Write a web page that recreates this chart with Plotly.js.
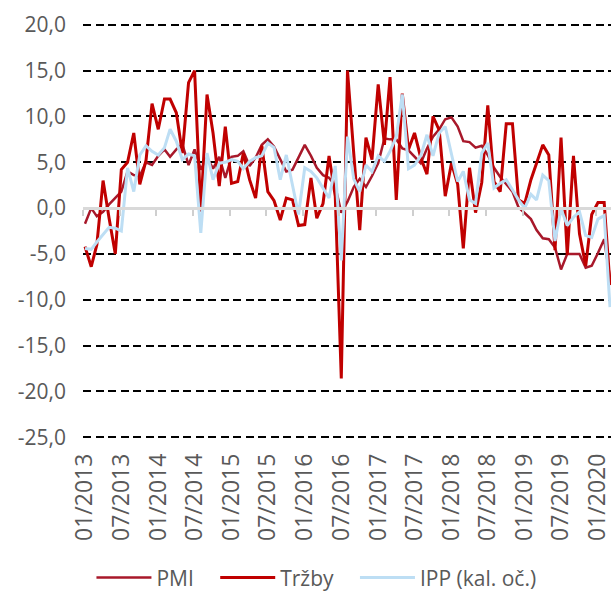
<!DOCTYPE html>
<html>
<head>
<meta charset="utf-8">
<script src="https://cdn.plot.ly/plotly-3.0.1.min.js"></script>
<style>html,body{margin:0;padding:0;background:#fff;}#chart{width:611px;height:597px;}</style>
</head>
<body>
<div id="chart"></div>
<script>
const months = [
'2013-01-01','2013-02-01','2013-03-01','2013-04-01','2013-05-01','2013-06-01','2013-07-01','2013-08-01','2013-09-01','2013-10-01','2013-11-01','2013-12-01',
'2014-01-01','2014-02-01','2014-03-01','2014-04-01','2014-05-01','2014-06-01','2014-07-01','2014-08-01','2014-09-01','2014-10-01','2014-11-01','2014-12-01',
'2015-01-01','2015-02-01','2015-03-01','2015-04-01','2015-05-01','2015-06-01','2015-07-01','2015-08-01','2015-09-01','2015-10-01','2015-11-01','2015-12-01',
'2016-01-01','2016-02-01','2016-03-01','2016-04-01','2016-05-01','2016-06-01','2016-07-01','2016-08-01','2016-09-01','2016-10-01','2016-11-01','2016-12-01',
'2017-01-01','2017-02-01','2017-03-01','2017-04-01','2017-05-01','2017-06-01','2017-07-01','2017-08-01','2017-09-01','2017-10-01','2017-11-01','2017-12-01',
'2018-01-01','2018-02-01','2018-03-01','2018-04-01','2018-05-01','2018-06-01','2018-07-01','2018-08-01','2018-09-01','2018-10-01','2018-11-01','2018-12-01',
'2019-01-01','2019-02-01','2019-03-01','2019-04-01','2019-05-01','2019-06-01','2019-07-01','2019-08-01','2019-09-01','2019-10-01','2019-11-01','2019-12-01',
'2020-01-01','2020-02-01','2020-03-01'
];

const pmi = [
-1.7,0.0,-0.9,-0.4,0.4,1.1,1.8,4.0,3.6,3.5,5.0,4.7,
5.7,6.4,5.6,6.4,7.0,4.7,6.4,4.2,5.5,4.3,5.6,3.3,
5.6,5.7,6.2,4.6,5.5,6.9,7.5,6.7,5.3,4.0,4.2,5.5,
6.9,5.7,4.4,3.6,3.3,2.4,-0.5,0.7,2.3,3.2,2.3,3.5,
4.9,7.6,7.5,7.5,6.5,6.3,5.6,4.9,6.5,7.8,8.6,9.7,
9.9,8.9,7.3,7.2,6.6,6.8,5.8,4.4,3.4,2.6,1.8,0.1,
-0.5,-1.2,-2.4,-3.3,-3.4,-4.3,-6.7,-5.0,-5.0,-5.0,-6.5,-6.3,
-4.9,-3.4,-7.6
];

const trzby = [
-4.2,-6.4,-4.0,3.0,-1.1,-5.0,4.2,5.0,8.2,2.6,5.2,11.4,
8.6,11.9,11.9,10.4,6.0,13.7,15.0,-0.4,12.4,8.2,2.4,8.9,
2.7,2.9,6.0,3.1,1.1,6.8,1.8,0.8,-1.3,1.1,0.9,-1.9,
-1.8,3.3,-1.1,0.5,5.7,1.3,-18.6,15.0,6.0,-2.4,7.7,5.3,
13.5,6.9,14.3,0.9,12.5,6.4,8.2,5.5,3.7,10.0,8.5,1.3,
4.9,2.6,-4.4,4.4,-0.5,2.8,11.2,2.9,1.8,9.2,9.2,0.9,
0.5,3.1,4.9,6.9,5.8,-4.6,7.7,-5.1,5.7,-2.8,-6.3,-0.7,
0.6,0.6,-8.4
];

const ipp = [
-4.4,-4.5,-3.7,-2.9,-2.1,-2.2,-2.5,4.4,1.8,5.8,6.8,6.2,
5.8,6.6,8.6,7.3,5.3,5.9,5.7,-2.7,6.0,3.1,4.9,5.0,
5.3,5.1,4.3,5.1,5.5,5.7,7.1,6.6,3.1,5.8,2.6,-0.7,
4.4,4.0,3.3,2.2,1.1,4.6,-5.7,7.8,3.2,1.8,4.7,4.0,
5.7,5.1,6.2,7.8,12.4,4.3,4.7,5.7,8.0,5.7,8.2,8.9,
5.8,2.9,4.0,0.9,0.5,6.0,7.1,2.2,2.7,3.1,2.0,0.9,
0.0,1.5,0.9,3.6,3.0,-3.6,-0.1,-1.9,-1.0,-0.4,-3.0,-3.2,
-1.2,-0.8,-10.8
];

const seriesNames = ['PMI', 'Tržby', 'IPP (kal. oč.)'];
const yTickVals = [-25, -20, -15, -10, -5, 0, 5, 10, 15, 20];
const yTickText = yTickVals.map(v => v.toFixed(1).replace('.', ','));

const FONT = '"Open Sans", "Noto Sans", sans-serif';
const GRAY = '#595959';
const NBSP = '\u00a0';
const xRange = ['2012-12-22', '2020-03-06'];
const yRange = [-25.2, 20.2];

const traces = [
  {x: months, y: pmi, name: seriesNames[0] + NBSP.repeat(3), type: 'scatter', mode: 'lines',
   line: {color: '#A8182A', width: 2.5}},
  {x: months, y: trzby, name: seriesNames[1] + NBSP.repeat(3), type: 'scatter', mode: 'lines',
   line: {color: '#C00000', width: 3}},
  {x: months, y: ipp, name: seriesNames[2], type: 'scatter', mode: 'lines',
   line: {color: '#BDDEF4', width: 3}},
  {x: [months[0]], y: [0], xaxis: 'x2', yaxis: 'y', type: 'scatter', mode: 'markers',
   showlegend: false, hoverinfo: 'skip', marker: {size: 1, color: 'rgba(0,0,0,0)'}}
];

const layout = {
  width: 611, height: 597,
  margin: {l: 83, r: 0, t: 23, b: 158, autoexpand: false},
  paper_bgcolor: '#fff', plot_bgcolor: '#fff',
  showlegend: true,
  font: {family: FONT, color: GRAY, size: 22},
  xaxis: {
    type: 'date', range: xRange,
    tick0: '2013-01-01', dtick: 'M6', tickformat: '%m/%Y',
    tickangle: -90, showgrid: false, zeroline: false, showline: false,
    ticks: '', ticklabelstandoff: 9, ticklabeloverflow: 'allow',
    tickfont: {family: FONT, size: 23, color: GRAY}
  },
  xaxis2: {
    type: 'date', range: xRange, overlaying: 'x', anchor: 'free',
    position: (0 - yRange[0]) / (yRange[1] - yRange[0]), side: 'bottom',
    tick0: '2012-12-22', dtick: 'M6', ticks: 'outside', ticklen: 6, tickwidth: 2,
    tickcolor: '#CFCFCF', showline: true, linecolor: '#D9D9D9', linewidth: 2.5,
    showticklabels: false, showgrid: false, zeroline: false, layer: 'above traces'
  },
  yaxis: {
    range: yRange,
    tickvals: yTickVals, ticktext: yTickText,
    showgrid: true, gridcolor: '#000000', gridwidth: 2, griddash: '8px,4.5px',
    zeroline: true, zerolinecolor: '#D9D9D9', zerolinewidth: 2.5,
    showline: false, ticks: '', ticklabelstandoff: 16,
    tickfont: {family: FONT, size: 21, color: GRAY}
  },
  legend: {
    orientation: 'h', x: 0.016, xanchor: 'left', y: -0.334, yanchor: 'middle',
    font: {family: FONT, size: 21, color: GRAY},
    itemwidth: 55, tracegroupgap: 0, bgcolor: 'rgba(0,0,0,0)'
  }
};

Plotly.newPlot('chart', traces, layout, {displayModeBar: false, staticPlot: true});
</script>
</body>
</html>
